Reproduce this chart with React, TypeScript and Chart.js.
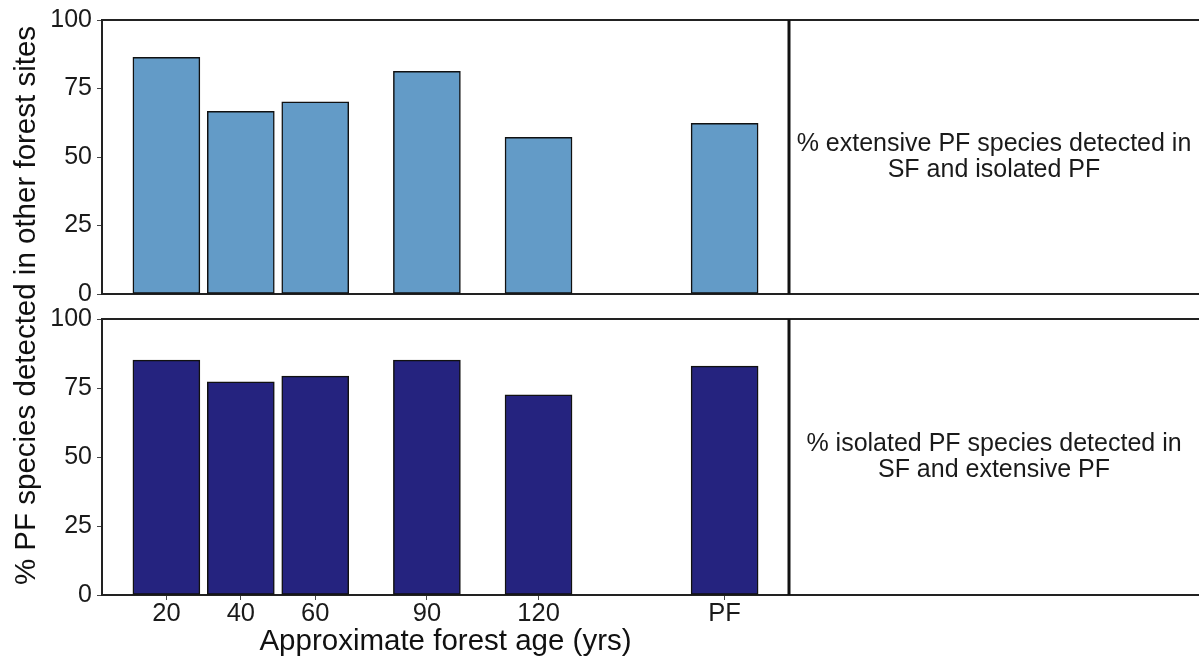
import React, { useEffect, useRef } from "react";
import { Chart, registerables } from "chart.js";

Chart.register(...registerables);

// ---- data ----
const ageLabels = ["20", "40", "60", "90", "120", "PF"];
const agePositions = [20, 40, 60, 90, 120, 170];
const extensiveValues = [86.4, 66.7, 70.1, 81.3, 57.2, 62.3];
const isolatedValues = [85.1, 77.2, 79.3, 85.1, 72.5, 82.9];
const yTickValues = [0, 25, 50, 75, 100];
const topNote = ["% extensive PF species detected in", "SF and isolated PF"];
const bottomNote = ["% isolated PF species detected in", "SF and extensive PF"];
const yTitle = "% PF species detected in other forest sites";
const xTitle = "Approximate forest age (yrs)";

const FONT = '"Liberation Sans", Arial, Helvetica, sans-serif';
const W = 1199;
const H = 664;

const panelPlugin = {
  id: "panelFrame",
  afterDraw(chart: any, _args: any, opts: any) {
    const { ctx, chartArea } = chart;
    const { left, top, right, bottom } = chartArea;
    const width = chart.width;
    ctx.save();
    ctx.strokeStyle = "#222";
    ctx.lineWidth = 2;
    ctx.beginPath();
    ctx.moveTo(left, top);
    ctx.lineTo(width, top);
    ctx.moveTo(right, bottom);
    ctx.lineTo(width, bottom);
    ctx.stroke();
    ctx.strokeStyle = "#111";
    ctx.lineWidth = 3;
    ctx.beginPath();
    ctx.moveTo(right, top);
    ctx.lineTo(right, bottom);
    ctx.stroke();

    const lines: string[] = opts.note || [];
    ctx.fillStyle = "#1a1a1a";
    ctx.font = `25px ${FONT}`;
    ctx.textAlign = "center";
    ctx.textBaseline = "middle";
    const cx = (right + width) / 2;
    const cy = (top + bottom) / 2;
    lines.forEach((l, i) => {
      ctx.fillText(l, cx, cy + (i - (lines.length - 1) / 2) * 26.7);
    });

    if (opts.yTitle) {
      ctx.translate(34.8, 305.5);
      ctx.rotate(-Math.PI / 2);
      ctx.textAlign = "center";
      ctx.textBaseline = "alphabetic";
      ctx.font = `29.5px ${FONT}`;
      ctx.fillStyle = "#111";
      ctx.fillText(opts.yTitle, 0, 0);
    }
    ctx.restore();
  },
};

function makeConfig(values: number[], color: string, note: string[], isBottom: boolean): any {
  return {
    type: "bar",
    data: {
      datasets: [
        {
          data: agePositions.map((x, i) => ({ x, y: values[i] })),
          backgroundColor: color,
          borderColor: "#111",
          borderWidth: 1.5,
          borderSkipped: false,
          barThickness: 67,
        },
      ],
    },
    plugins: [panelPlugin],
    options: {
      animation: false,
      responsive: false,
      maintainAspectRatio: false,
      events: [],
      layout: {
        padding: {
          left: 0,
          right: 410,
          top: isBottom ? 319 : 19,
          bottom: isBottom ? 0 : 370,
        },
      },
      plugins: {
        legend: { display: false },
        tooltip: { enabled: false },
        panelFrame: { note, yTitle: isBottom ? null : yTitle },
      },
      scales: {
        x: {
          type: "linear",
          min: 2.7,
          max: 187.3,
          offset: false,
          afterBuildTicks: (s: any) => {
            s.ticks = agePositions.map((v) => ({ value: v }));
          },
          afterFit: (s: any) => {
            s.height = isBottom ? 69 : 0;
          },
          ticks: {
            display: isBottom,
            autoSkip: false,
            maxRotation: 0,
            padding: 1,
            color: "#1a1a1a",
            font: { family: FONT, size: 25.5, lineHeight: 1 },
            callback: (v: number) => {
              const i = agePositions.indexOf(v);
              return i >= 0 ? ageLabels[i] : "";
            },
          },
          grid: {
            display: isBottom,
            offset: false,
            drawOnChartArea: false,
            drawTicks: true,
            tickLength: 5,
            color: "#444",
            lineWidth: 1,
          },
          border: { display: true, color: "#222", width: 2 },
          title: {
            display: isBottom,
            text: xTitle,
            color: "#111",
            font: { family: FONT, size: 29.5 },
            padding: { top: 0, bottom: 4 },
          },
        },
        y: {
          min: 0,
          max: 100,
          afterBuildTicks: (s: any) => {
            s.ticks = yTickValues.map((v) => ({ value: v }));
          },
          afterFit: (s: any) => {
            s.width = 102;
          },
          ticks: {
            padding: 5,
            color: "#1a1a1a",
            font: { family: FONT, size: 25 },
          },
          grid: {
            drawOnChartArea: false,
            drawTicks: true,
            tickLength: 5,
            color: "#444",
            lineWidth: 1,
          },
          border: { display: true, color: "#222", width: 2 },
        },
      },
    },
  };
}

export default function App() {
  const topRef = useRef<HTMLCanvasElement | null>(null);
  const bottomRef = useRef<HTMLCanvasElement | null>(null);

  useEffect(() => {
    Chart.defaults.font.family = FONT;
    const top = new Chart(topRef.current as HTMLCanvasElement, makeConfig(extensiveValues, "#639BC7", topNote, false));
    const bottom = new Chart(bottomRef.current as HTMLCanvasElement, makeConfig(isolatedValues, "#25237F", bottomNote, true));
    return () => {
      top.destroy();
      bottom.destroy();
    };
  }, []);

  const canvasStyle: React.CSSProperties = {
    position: "absolute",
    left: 0,
    top: 0,
    width: W,
    height: H,
  };

  return (
    <div style={{ position: "absolute", left: 0, top: 0, width: W, height: H, background: "#fff" }}>
      <canvas ref={topRef} width={W} height={H} style={canvasStyle} />
      <canvas ref={bottomRef} width={W} height={H} style={canvasStyle} />
    </div>
  );
}
